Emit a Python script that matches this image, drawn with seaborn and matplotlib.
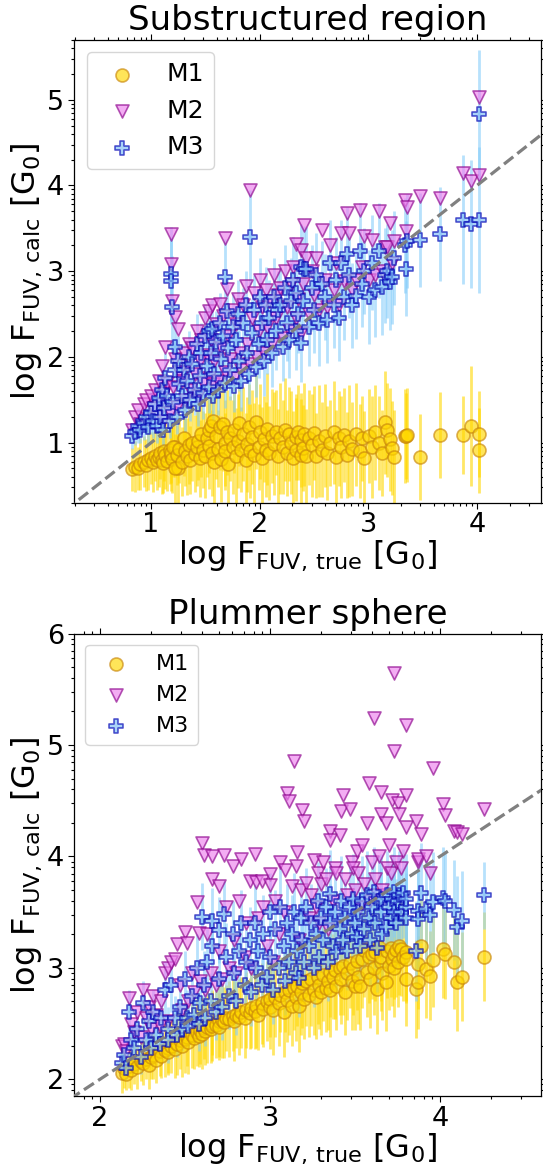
import numpy as np
import matplotlib
matplotlib.use("Agg")
import matplotlib.pyplot as plt
from matplotlib.ticker import FuncFormatter, NullFormatter, LogLocator
import seaborn as sns

# ---------------------------------------------------------------------------
# Data (log10 of the FUV flux in units of G0)
# ---------------------------------------------------------------------------
# Substructured region
sub_true = [
    0.82, 0.85, 0.88, 0.90, 0.93, 0.95, 0.97, 1.00, 1.02, 1.04,
    1.05, 1.07, 1.08, 1.10, 1.11, 1.12, 1.13, 1.15, 1.17, 1.18,
    1.18, 1.19, 1.22, 1.25, 1.20, 1.22, 1.24, 1.26, 1.28, 1.30,
    1.31, 1.33, 1.35, 1.36, 1.38, 1.40, 1.42, 1.43, 1.45, 1.46,
    1.48, 1.50, 1.51, 1.53, 1.53, 1.55, 1.56, 1.57, 1.58, 1.60,
    1.62, 1.63, 1.64, 1.66, 1.68, 1.68, 1.70, 1.71, 1.73, 1.75,
    1.76, 1.78, 1.80, 1.81, 1.83, 1.85, 1.87, 1.88, 1.90, 1.91,
    1.93, 1.95, 1.97, 1.99, 2.00, 2.02, 2.04, 2.06, 2.07, 2.09,
    2.11, 2.13, 2.15, 2.17, 2.19, 2.21, 2.23, 2.25, 2.27, 2.29,
    2.31, 2.33, 2.33, 2.35, 2.38, 2.38, 2.40, 2.41, 2.43, 2.45,
    2.48, 2.50, 2.52, 2.55, 2.57, 2.60, 2.62, 2.65, 2.68, 2.70,
    2.73, 2.75, 2.78, 2.80, 2.82, 2.85, 2.89, 2.92, 2.94, 2.96,
    3.01, 3.03, 3.06, 3.10, 3.13, 3.15, 3.17, 3.20, 3.22, 3.24,
    3.34, 3.35, 3.36, 3.48, 3.66, 3.87, 3.95, 4.02, 4.02,
]
sub_m1 = [
    0.69, 0.72, 0.70, 0.75, 0.78, 0.74, 0.80, 0.82, 0.77, 0.85,
    0.80, 0.83, 0.88, 0.80, 0.76, 0.90, 0.86, 0.79, 0.92, 0.84,
    0.88, 0.81, 0.95, 0.70, 0.95, 0.70, 0.86, 0.93, 0.78, 1.06,
    0.90, 0.84, 0.97, 0.80, 1.00, 0.87, 0.95, 1.02, 0.82, 1.10,
    0.92, 0.85, 1.05, 1.15, 0.96, 1.20, 0.88, 1.25, 0.78, 1.08,
    0.93, 1.18, 0.81, 1.22, 1.00, 0.90, 1.12, 0.75, 1.05, 0.95,
    1.15, 0.85, 1.02, 1.23, 0.92, 1.10, 0.80, 0.98, 1.18, 0.90,
    1.07, 0.86, 1.24, 0.95, 1.13, 0.82, 1.04, 0.92, 1.16, 0.88,
    1.08, 0.99, 1.12, 0.84, 1.05, 0.95, 1.15, 0.88, 1.10, 1.00,
    0.82, 1.07, 0.92, 1.12, 0.86, 1.03, 0.94, 1.10, 0.84, 1.06,
    0.97, 1.11, 0.85, 1.02, 0.92, 1.08, 0.88, 1.00, 1.12, 0.83,
    1.05, 0.95, 1.09, 0.86, 1.02, 0.93, 1.10, 0.90, 1.05, 0.82,
    1.08, 0.95, 1.12, 1.00, 0.88, 1.24, 1.15, 1.04, 0.94, 0.83,
    1.08, 1.08, 1.09, 0.83, 1.09, 1.09, 1.19, 1.10, 0.91,
]
sub_m2 = [
    1.15, 1.30, 1.38, 1.22, 1.45, 1.50, 1.28, 1.55, 1.40, 1.62,
    1.30, 1.72, 1.45, 1.90, 1.25, 1.58, 2.12, 1.70, 1.35, 3.43,
    3.08, 2.65, 2.47, 2.33, 1.65, 1.98, 1.42, 1.82, 1.72, 2.05,
    1.50, 1.90, 2.15, 1.62, 2.10, 1.80, 2.30, 1.55, 1.95, 2.20,
    1.70, 2.45, 2.02, 1.75, 2.53, 2.20, 2.61, 1.68, 1.95, 2.38,
    1.72, 2.62, 2.10, 2.48, 3.39, 1.82, 2.79, 2.25, 1.98, 2.55,
    1.75, 2.38, 2.68, 2.05, 1.85, 2.60, 2.83, 2.15, 1.92, 3.95,
    2.45, 2.75, 2.00, 2.30, 2.90, 2.58, 2.05, 2.78, 2.35, 2.65,
    2.15, 2.95, 2.45, 2.72, 2.80, 2.22, 3.00, 2.58, 2.32, 2.85,
    3.05, 2.45, 3.32, 2.68, 2.28, 3.25, 2.85, 3.54, 3.15, 2.50,
    3.00, 2.72, 3.15, 2.55, 3.48, 2.90, 2.58, 3.30, 2.78, 3.10,
    2.60, 3.45, 2.88, 3.68, 3.45, 2.78, 2.90, 3.71, 3.05, 3.41,
    2.90, 3.36, 2.95, 3.70, 3.00, 3.28, 3.28, 3.56, 3.10, 3.35,
    3.83, 3.47, 3.75, 3.88, 3.85, 4.15, 4.05, 4.12, 5.03,
]
sub_m3 = [
    1.08, 1.12, 1.20, 1.15, 1.23, 1.30, 1.18, 1.35, 1.25, 1.45,
    1.20, 1.52, 1.30, 1.62, 1.15, 1.40, 1.75, 1.55, 1.25, 2.97,
    2.89, 2.58, 2.12, 1.95, 1.48, 1.85, 1.30, 1.68, 1.55, 1.85,
    1.38, 1.72, 2.00, 1.50, 1.92, 1.62, 2.15, 1.45, 1.78, 2.05,
    1.58, 2.25, 1.90, 1.65, 2.30, 2.05, 2.33, 1.55, 1.80, 2.18,
    1.62, 2.40, 1.98, 2.25, 2.93, 1.70, 2.53, 2.10, 1.85, 2.35,
    1.66, 2.20, 2.50, 1.95, 1.72, 2.40, 2.60, 2.05, 1.80, 3.40,
    2.28, 2.55, 1.88, 2.15, 2.70, 2.40, 1.95, 2.60, 2.20, 2.45,
    2.05, 2.70, 2.30, 2.55, 2.60, 2.12, 2.80, 2.40, 2.20, 2.65,
    2.90, 2.30, 2.75, 2.50, 2.16, 3.05, 2.65, 3.03, 3.02, 2.35,
    2.80, 2.55, 2.95, 2.40, 2.85, 2.70, 2.43, 3.10, 2.60, 2.90,
    2.45, 3.10, 2.70, 3.20, 2.95, 2.60, 2.71, 3.24, 2.85, 3.00,
    2.70, 3.10, 2.78, 3.24, 2.81, 2.95, 3.00, 2.87, 2.93, 3.15,
    3.30, 3.03, 3.35, 3.36, 3.43, 3.60, 3.55, 3.60, 4.83,
]
sub_m1_err = [
    0.25, 0.30, 0.25, 0.30, 0.30, 0.30, 0.35, 0.30, 0.35, 0.30,
    0.35, 0.35, 0.30, 0.40, 0.35, 0.35, 0.40, 0.35, 0.40, 0.40,
    0.35, 0.40, 0.35, 0.40, 0.35, 0.40, 0.35, 0.40, 0.40, 0.45,
    0.40, 0.45, 0.45, 0.40, 0.45, 0.45, 0.45, 0.45, 0.45, 0.50,
    0.45, 0.50, 0.45, 0.50, 0.50, 0.50, 0.50, 0.45, 0.50, 0.50,
    0.45, 0.50, 0.50, 0.55, 0.50, 0.45, 0.50, 0.50, 0.50, 0.55,
    0.50, 0.55, 0.55, 0.50, 0.50, 0.55, 0.55, 0.55, 0.50, 0.55,
    0.55, 0.60, 0.55, 0.50, 0.55, 0.60, 0.50, 0.55, 0.65, 0.55,
    0.55, 0.60, 0.50, 0.55, 0.65, 0.55, 0.60, 0.50, 0.55, 0.60,
    0.55, 0.50, 0.60, 0.55, 0.65, 0.55, 0.50, 0.60, 0.55, 0.55,
    0.60, 0.55, 0.50, 0.65, 0.55, 0.60, 0.55, 0.50, 0.60, 0.55,
    0.55, 0.60, 0.55, 0.50, 0.65, 0.55, 0.60, 0.55, 0.50, 0.55,
    0.55, 0.60, 0.55, 0.55, 0.50, 0.60, 0.55, 0.60, 0.55, 0.55,
    0.55, 0.50, 0.55, 0.50, 0.50, 0.45, 0.70, 0.50, 0.50,
]
sub_m3_err = [
    0.15, 0.15, 0.20, 0.15, 0.20, 0.20, 0.20, 0.25, 0.20, 0.25,
    0.20, 0.25, 0.20, 0.25, 0.20, 0.25, 0.30, 0.25, 0.20, 0.55,
    0.50, 0.60, 0.35, 0.30, 0.25, 0.30, 0.20, 0.30, 0.25, 0.30,
    0.25, 0.30, 0.30, 0.25, 0.30, 0.30, 0.35, 0.25, 0.30, 0.35,
    0.30, 0.35, 0.30, 0.30, 0.35, 0.35, 0.35, 0.30, 0.30, 0.35,
    0.30, 0.35, 0.35, 0.35, 0.45, 0.30, 0.40, 0.35, 0.35, 0.40,
    0.30, 0.40, 0.40, 0.35, 0.35, 0.40, 0.40, 0.35, 0.35, 0.55,
    0.40, 0.40, 0.35, 0.40, 0.45, 0.40, 0.40, 0.45, 0.40, 0.45,
    0.40, 0.45, 0.45, 0.45, 0.45, 0.40, 0.50, 0.45, 0.45, 0.50,
    0.50, 0.45, 0.50, 0.45, 0.45, 0.50, 0.50, 0.50, 0.50, 0.45,
    0.50, 0.50, 0.50, 0.50, 0.50, 0.50, 0.50, 0.50, 0.50, 0.50,
    0.50, 0.50, 0.50, 0.55, 0.50, 0.50, 0.50, 0.55, 0.50, 0.50,
    0.55, 0.55, 0.55, 0.55, 0.55, 0.55, 0.55, 0.55, 0.55, 0.55,
    0.55, 0.55, 0.55, 0.55, 0.55, 0.75, 0.75, 0.85, 0.75,
]

# Plummer sphere
plu_true = [
    2.13, 2.14, 2.15, 2.17, 2.18, 2.20, 2.22, 2.24, 2.25, 2.27,
    2.29, 2.30, 2.31, 2.33, 2.35, 2.36, 2.38, 2.40, 2.40, 2.42,
    2.44, 2.45, 2.47, 2.48, 2.50, 2.51, 2.52, 2.54, 2.55, 2.57,
    2.58, 2.59, 2.60, 2.61, 2.62, 2.63, 2.65, 2.66, 2.66, 2.68,
    2.70, 2.70, 2.72, 2.73, 2.74, 2.76, 2.78, 2.79, 2.80, 2.82,
    2.83, 2.85, 2.86, 2.88, 2.89, 2.91, 2.92, 2.93, 2.95, 2.96,
    2.98, 3.00, 3.00, 3.02, 3.03, 3.05, 3.06, 3.08, 3.09, 3.10,
    3.11, 3.13, 3.14, 3.15, 3.16, 3.17, 3.18, 3.19, 3.20, 3.21,
    3.23, 3.24, 3.26, 3.27, 3.28, 3.29, 3.30, 3.31, 3.33, 3.34,
    3.35, 3.35, 3.37, 3.38, 3.39, 3.41, 3.42, 3.43, 3.44, 3.45,
    3.47, 3.48, 3.49, 3.50, 3.51, 3.52, 3.53, 3.54, 3.55, 3.57,
    3.58, 3.59, 3.60, 3.61, 3.62, 3.63, 3.64, 3.65, 3.65, 3.66,
    3.68, 3.69, 3.70, 3.71, 3.72, 3.73, 3.73, 3.74, 3.75, 3.76,
    3.77, 3.78, 3.80, 3.80, 3.80, 3.86, 3.87, 3.87, 3.89, 3.92,
    3.94, 3.96, 4.02, 4.03, 4.08, 4.10, 4.13, 4.26,
]
plu_m1 = [
    2.06, 2.10, 2.05, 2.12, 2.08, 2.14, 2.11, 2.16, 2.15, 2.18,
    2.13, 2.20, 2.22, 2.17, 2.25, 2.21, 2.26, 2.28, 2.24, 2.30,
    2.27, 2.32, 2.35, 2.30, 2.36, 2.38, 2.33, 2.40, 2.37, 2.42,
    2.39, 2.44, 2.41, 2.46, 2.43, 2.47, 2.45, 2.50, 2.48, 2.49,
    2.52, 2.47, 2.53, 2.51, 2.55, 2.54, 2.57, 2.52, 2.58, 2.56,
    2.60, 2.55, 2.62, 2.59, 2.64, 2.61, 2.66, 2.58, 2.68, 2.63,
    2.70, 2.65, 2.72, 2.62, 2.74, 2.68, 2.76, 2.60, 2.78, 2.71,
    2.80, 2.66, 2.82, 2.74, 2.84, 2.66, 2.78, 2.86, 2.72, 2.88,
    2.76, 2.90, 2.80, 2.74, 2.92, 2.85, 2.78, 2.94, 2.82, 2.88,
    2.96, 2.80, 2.92, 2.98, 2.84, 3.00, 2.90, 3.02, 2.78, 2.95,
    3.04, 2.88, 3.00, 2.84, 3.06, 2.92, 2.84, 3.08, 3.16, 2.96,
    3.10, 2.90, 3.12, 3.00, 3.14, 2.81, 3.19, 3.05, 3.10, 2.95,
    2.87, 3.15, 3.02, 3.18, 3.08, 3.12, 3.00, 3.16, 3.05, 3.20,
    3.17, 3.10, 3.14, 2.90, 3.08, 2.81, 2.87, 3.03, 3.20, 2.99,
    2.93, 3.07, 3.17, 3.12, 3.05, 2.87, 2.92, 3.10,
]
plu_m2 = [
    2.30, 2.32, 2.25, 2.73, 2.50, 2.42, 2.60, 2.38, 2.80, 2.55,
    2.65, 2.45, 2.75, 2.58, 2.48, 2.70, 2.95, 3.00, 2.52, 3.05,
    3.08, 3.21, 2.85, 2.62, 3.32, 3.22, 2.70, 2.95, 2.78, 3.59,
    3.31, 2.88, 4.12, 4.01, 2.80, 3.30, 2.95, 4.00, 3.80, 2.85,
    3.73, 3.15, 2.90, 4.01, 3.55, 3.00, 3.91, 3.25, 2.95, 3.60,
    3.98, 3.10, 3.40, 3.78, 3.00, 4.02, 3.77, 3.45, 3.78, 3.55,
    3.20, 3.84, 3.74, 3.05, 3.60, 3.30, 3.95, 3.50, 3.88, 4.57,
    4.50, 3.73, 4.86, 3.91, 4.04, 3.25, 3.70, 4.42, 4.32, 3.76,
    3.45, 3.65, 3.97, 3.55, 3.85, 3.40, 3.75, 3.95, 3.80, 3.35,
    4.23, 4.15, 3.60, 3.90, 3.85, 4.19, 4.41, 4.55, 3.80, 3.65,
    4.43, 3.95, 3.90, 3.70, 4.05, 3.85, 3.55, 4.10, 3.75, 4.30,
    4.66, 3.60, 3.95, 5.24, 3.80, 3.65, 4.00, 4.58, 4.38, 3.70,
    4.30, 3.90, 4.10, 3.85, 4.51, 5.65, 4.95, 3.95, 4.48, 4.38,
    3.90, 4.05, 5.18, 4.55, 4.26, 4.32, 3.95, 3.98, 4.20, 4.00,
    3.85, 4.79, 4.47, 4.37, 4.23, 4.22, 4.20, 4.43,
]
plu_m3 = [
    2.15, 2.22, 2.10, 2.60, 2.35, 2.28, 2.45, 2.20, 2.68, 2.35,
    2.52, 2.28, 2.60, 2.40, 2.32, 2.55, 2.80, 2.45, 2.35, 2.85,
    2.55, 2.40, 2.65, 2.45, 2.90, 2.55, 2.48, 2.75, 2.58, 3.00,
    2.50, 2.68, 3.46, 2.85, 2.55, 3.05, 2.70, 3.42, 3.20, 2.60,
    3.34, 2.90, 2.65, 3.48, 3.10, 2.75, 3.30, 2.95, 2.70, 3.15,
    3.40, 2.85, 3.05, 3.25, 2.78, 3.40, 3.00, 3.15, 2.85, 3.30,
    2.92, 3.50, 3.10, 2.80, 3.35, 3.00, 3.55, 3.20, 2.88, 3.40,
    3.05, 3.30, 3.50, 2.95, 3.15, 2.91, 3.45, 3.25, 3.05, 3.55,
    3.20, 3.40, 3.00, 3.30, 3.60, 3.10, 3.45, 3.25, 3.55, 3.05,
    3.40, 3.66, 3.20, 3.50, 3.14, 3.35, 3.60, 3.25, 3.45, 3.15,
    3.55, 3.30, 3.62, 3.40, 3.28, 3.50, 3.20, 3.60, 3.35, 3.65,
    3.45, 3.25, 3.55, 3.68, 3.40, 3.18, 3.60, 3.50, 3.62, 3.30,
    3.37, 3.65, 3.55, 3.45, 3.62, 3.68, 3.50, 3.40, 3.60, 3.65,
    3.50, 3.67, 3.55, 3.62, 3.45, 3.15, 3.51, 3.44, 3.67, 3.53,
    3.47, 3.59, 3.63, 3.60, 3.52, 3.37, 3.42, 3.65,
]
plu_m1_err = [
    0.18, 0.18, 0.15, 0.20, 0.18, 0.18, 0.20, 0.18, 0.20, 0.18,
    0.22, 0.20, 0.22, 0.20, 0.22, 0.20, 0.24, 0.22, 0.20, 0.24,
    0.26, 0.28, 0.26, 0.28, 0.30, 0.26, 0.28, 0.30, 0.28, 0.30,
    0.28, 0.30, 0.32, 0.28, 0.30, 0.32, 0.30, 0.28, 0.32, 0.30,
    0.32, 0.30, 0.34, 0.32, 0.30, 0.34, 0.32, 0.36, 0.30, 0.34,
    0.32, 0.36, 0.34, 0.32, 0.36, 0.34, 0.38, 0.32, 0.36, 0.34,
    0.36, 0.38, 0.34, 0.40, 0.36, 0.38, 0.34, 0.40, 0.36, 0.38,
    0.40, 0.36, 0.38, 0.40, 0.36, 0.42, 0.38, 0.40, 0.36, 0.40,
    0.38, 0.42, 0.40, 0.38, 0.42, 0.40, 0.38, 0.42, 0.40, 0.44,
    0.40, 0.42, 0.38, 0.44, 0.40, 0.42, 0.40, 0.44, 0.38, 0.42,
    0.40, 0.44, 0.42, 0.40, 0.44, 0.42, 0.40, 0.44, 0.42, 0.40,
    0.42, 0.44, 0.40, 0.42, 0.44, 0.40, 0.42, 0.44, 0.40, 0.42,
    0.44, 0.42, 0.40, 0.44, 0.42, 0.40, 0.44, 0.42, 0.40, 0.44,
    0.42, 0.40, 0.44, 0.42, 0.40, 0.44, 0.42, 0.40, 0.42, 0.44,
    0.40, 0.42, 0.44, 0.40, 0.42, 0.44, 0.40, 0.40,
]
plu_m3_err = [
    0.10, 0.12, 0.10, 0.20, 0.15, 0.15, 0.15, 0.15, 0.20, 0.15,
    0.20, 0.15, 0.20, 0.20, 0.15, 0.20, 0.25, 0.20, 0.20, 0.25,
    0.20, 0.20, 0.25, 0.20, 0.25, 0.25, 0.20, 0.25, 0.25, 0.30,
    0.25, 0.25, 0.30, 0.30, 0.25, 0.30, 0.25, 0.30, 0.30, 0.25,
    0.30, 0.30, 0.30, 0.30, 0.30, 0.30, 0.30, 0.30, 0.30, 0.30,
    0.30, 0.30, 0.30, 0.30, 0.30, 0.35, 0.30, 0.30, 0.30, 0.35,
    0.30, 0.35, 0.30, 0.30, 0.35, 0.30, 0.35, 0.35, 0.30, 0.35,
    0.35, 0.35, 0.35, 0.35, 0.35, 0.35, 0.35, 0.35, 0.35, 0.35,
    0.35, 0.35, 0.35, 0.35, 0.35, 0.35, 0.35, 0.35, 0.35, 0.35,
    0.35, 0.40, 0.35, 0.35, 0.35, 0.35, 0.40, 0.35, 0.35, 0.35,
    0.40, 0.35, 0.40, 0.35, 0.35, 0.40, 0.35, 0.40, 0.35, 0.40,
    0.40, 0.40, 0.40, 0.40, 0.40, 0.40, 0.40, 0.40, 0.40, 0.40,
    0.40, 0.40, 0.40, 0.40, 0.40, 0.40, 0.40, 0.40, 0.40, 0.40,
    0.40, 0.40, 0.40, 0.40, 0.40, 0.45, 0.45, 0.45, 0.45, 0.45,
    0.45, 0.45, 0.45, 0.45, 0.45, 0.45, 0.45, 0.30,
]

method_labels = ["M1", "M2", "M3"]

# ---------------------------------------------------------------------------
# Style
# ---------------------------------------------------------------------------
sns.set_style("ticks")
plt.rcParams["font.family"] = ["DejaVu Sans"]
plt.rcParams["mathtext.fontset"] = "dejavusans"
plt.rcParams["axes.edgecolor"] = "black"
plt.rcParams["xtick.color"] = "black"
plt.rcParams["ytick.color"] = "black"
plt.rcParams["text.color"] = "black"
plt.rcParams["axes.labelcolor"] = "black"

M1_STYLE = dict(marker="o", color="gold", edgecolor="#c8860b")
M2_STYLE = dict(marker="v", color="violet", edgecolor="darkmagenta")
M3_STYLE = dict(marker="P", color="#7fbcf5", edgecolor="#0000b4")


def log_label(v, pos):
    return f"{np.log10(v):.0f}"


def draw_panel(ax, true, m1, m2, m3, m1_err, m3_err, xlim, ylim, title, legend_fs):
    true = np.asarray(true)
    xs = 10 ** true

    def bars(vals, err, color):
        vals = np.asarray(vals)
        err = np.asarray(err)
        lo = 10 ** vals - 10 ** (vals - err)
        hi = 10 ** (vals + err) - 10 ** vals
        ax.errorbar(xs, 10 ** vals, yerr=[lo, hi], fmt="none", ecolor=color,
                    elinewidth=2.0, alpha=0.6, zorder=1)

    bars(m1, m1_err, "gold")
    bars(m3, m3_err, "lightskyblue")

    for vals, style, lab, z in [(m1, M1_STYLE, method_labels[0], 2),
                                (m2, M2_STYLE, method_labels[1], 3),
                                (m3, M3_STYLE, method_labels[2], 4)]:
        sns.scatterplot(x=xs, y=10 ** np.asarray(vals), s=88, alpha=0.65,
                        linewidth=1.2, label=lab, ax=ax, zorder=z, **style)

    diag = np.array([1e-1, 1e7])
    ax.plot(diag, diag, linestyle="--", color="gray", lw=2.3, zorder=5)

    ax.set_xscale("log")
    ax.set_yscale("log")
    ax.set_xlim(10 ** xlim[0], 10 ** xlim[1])
    ax.set_ylim(10 ** ylim[0], 10 ** ylim[1])
    for axis in (ax.xaxis, ax.yaxis):
        axis.set_major_locator(LogLocator(base=10, numticks=20))
        axis.set_minor_locator(LogLocator(base=10, subs=np.arange(2, 10), numticks=40))
        axis.set_major_formatter(FuncFormatter(log_label))
        axis.set_minor_formatter(NullFormatter())

    ax.tick_params(which="both", direction="out", top=True, right=True,
                   labelsize=19.5, width=0.8)
    ax.tick_params(which="major", length=4, pad=3)
    ax.tick_params(which="minor", length=2.2)
    for sp in ax.spines.values():
        sp.set_color("black")
        sp.set_linewidth(0.9)

    ax.set_title(title, fontsize=24.5, pad=7)
    ax.set_xlabel(r"log F$_{\mathrm{FUV,\,true}}$ [G$_0$]", fontsize=23, labelpad=0)
    ax.set_ylabel(r"log F$_{\mathrm{FUV,\,calc}}$ [G$_0$]", fontsize=23, labelpad=2)
    ax.legend(loc="upper left", fontsize=legend_fs, frameon=True)


fig = plt.figure(figsize=(5.43, 11.69), dpi=100)
ax_top = fig.add_axes([0.1363, 0.5700, 0.8600, 0.3960])
ax_bot = fig.add_axes([0.1363, 0.0625, 0.8600, 0.3955])

draw_panel(ax_top, sub_true, sub_m1, sub_m2, sub_m3, sub_m1_err, sub_m3_err,
           (0.29, 4.59), (0.30, 5.70), "Substructured region", 18)
draw_panel(ax_bot, plu_true, plu_m1, plu_m2, plu_m3, plu_m1_err, plu_m3_err,
           (1.847, 4.594), (1.85, 6.0), "Plummer sphere", 16)

fig.savefig("out.png", dpi=100)
